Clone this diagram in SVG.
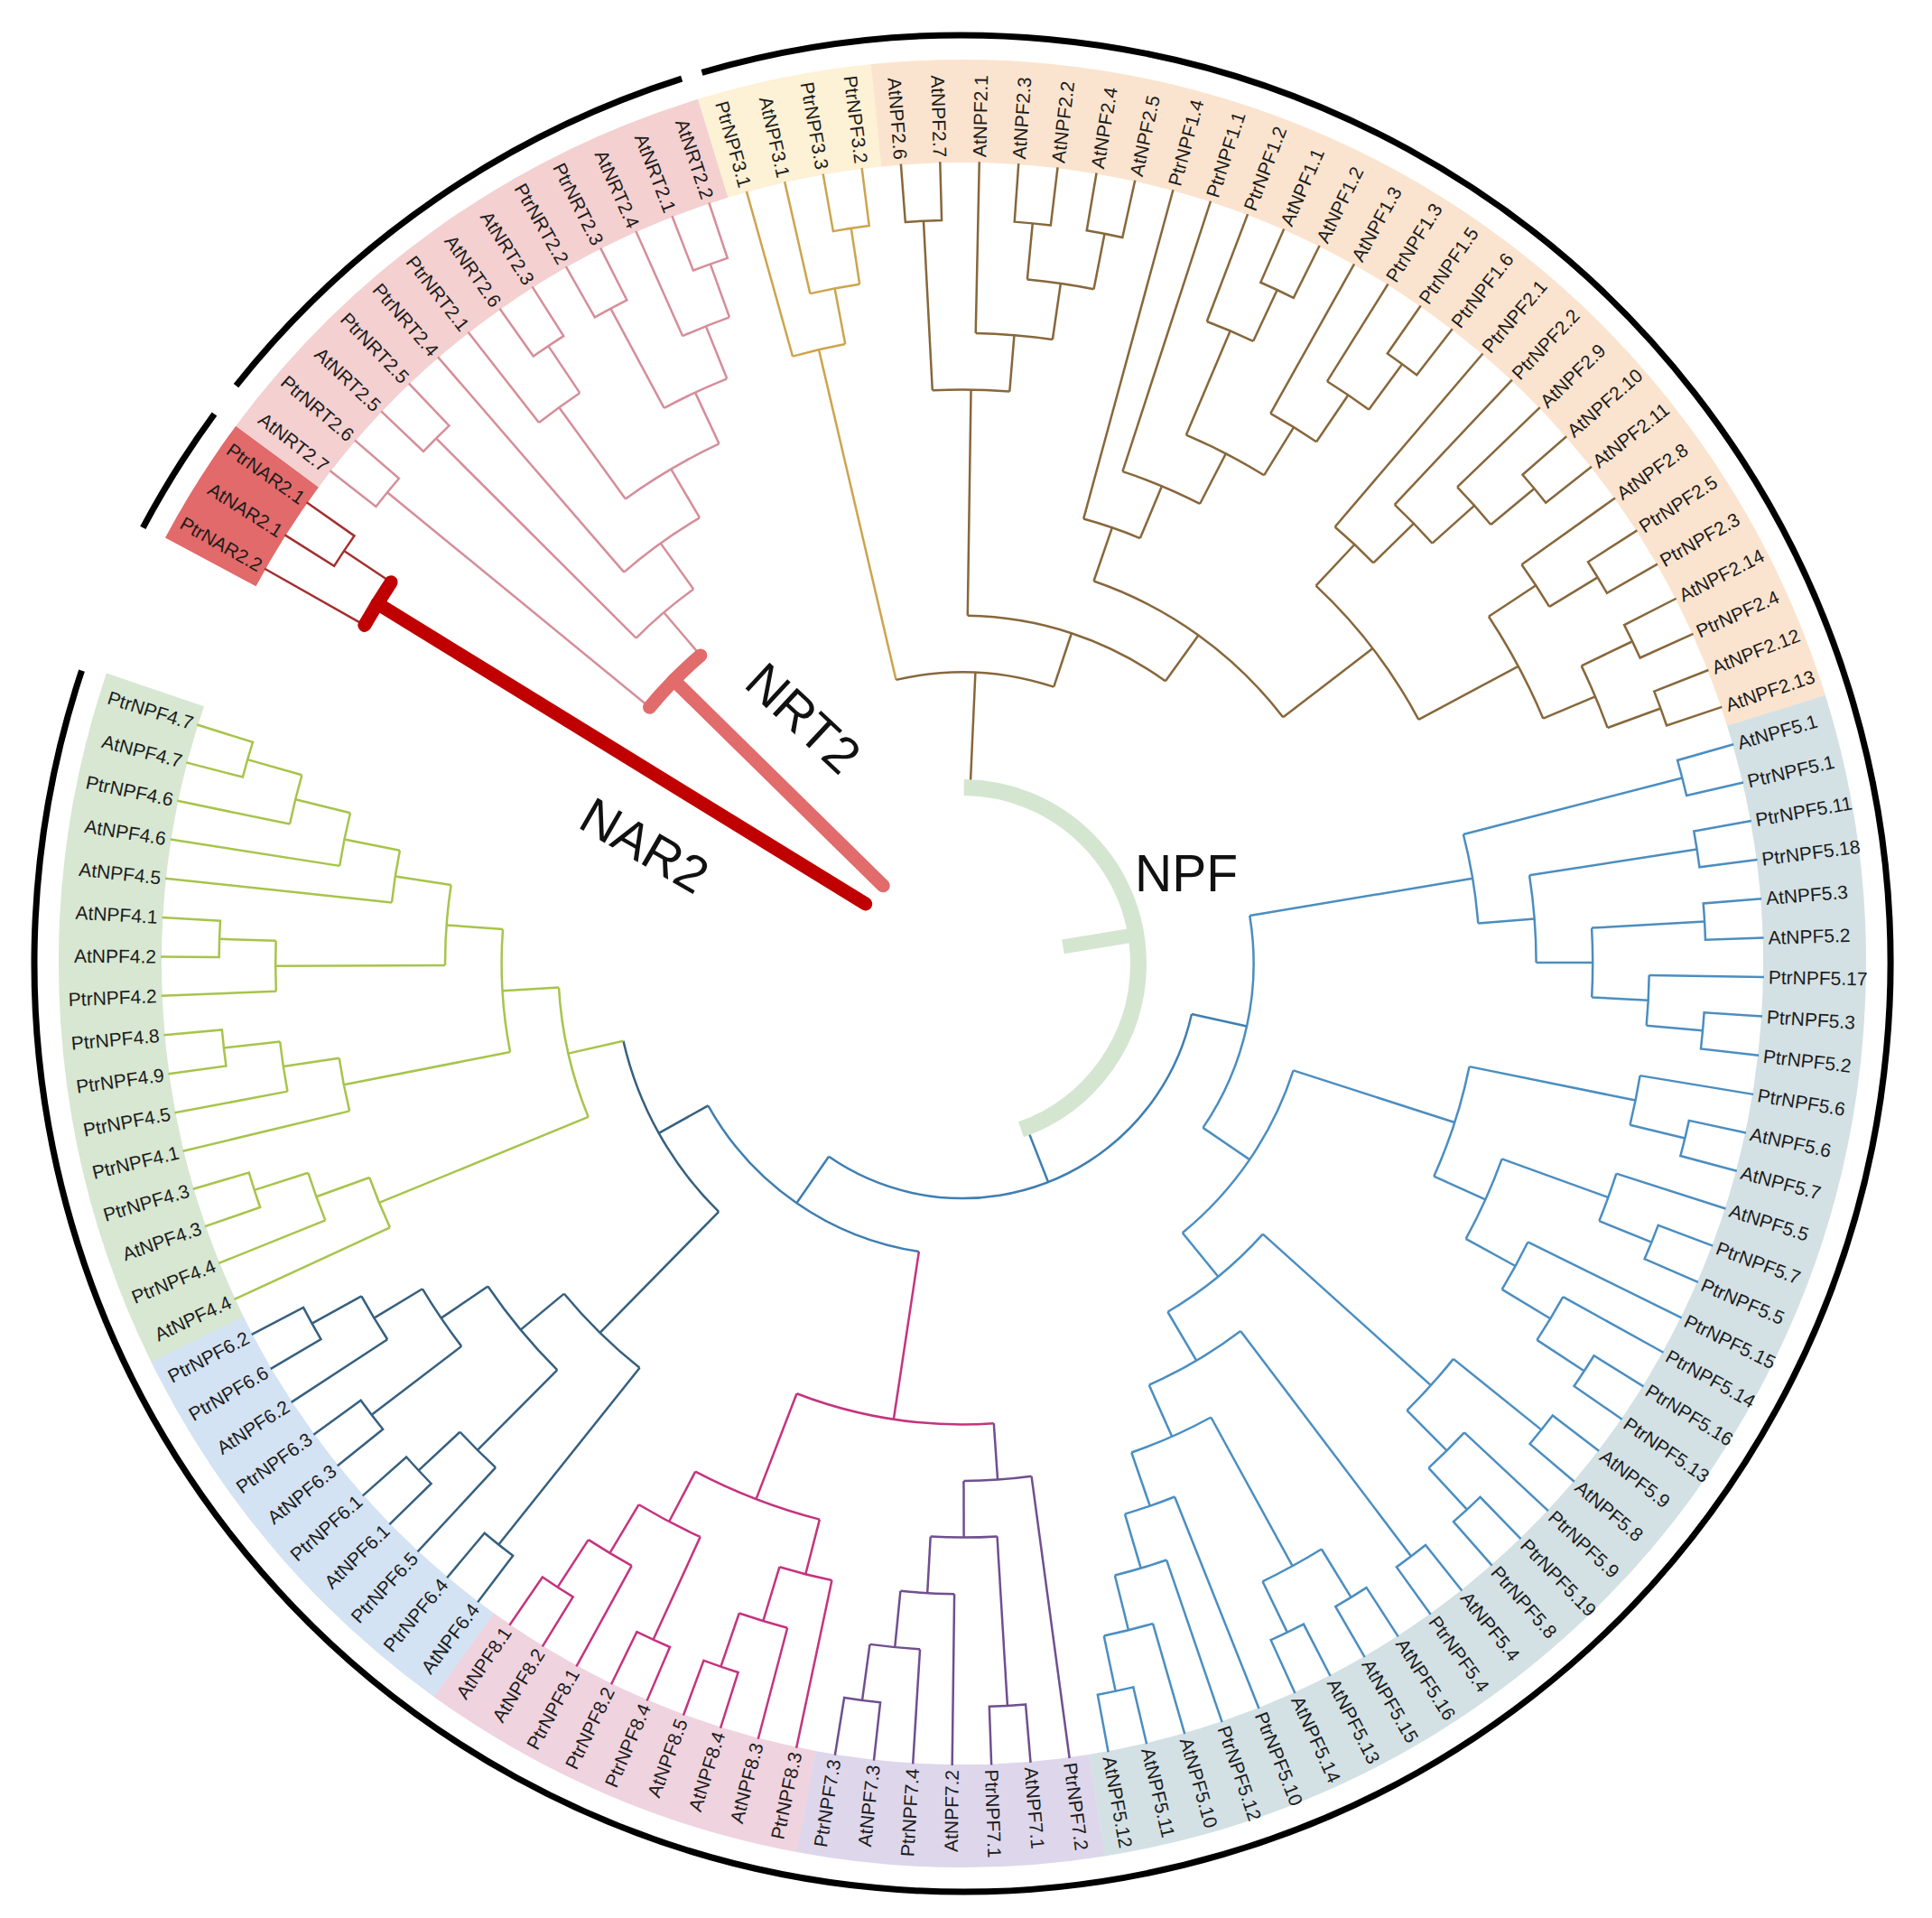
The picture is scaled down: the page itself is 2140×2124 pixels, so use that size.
<svg xmlns="http://www.w3.org/2000/svg" width="2140" height="2124" viewBox="0 0 2140 2124">
<defs>
<path id="pr" d="M888 0H823.4A823.4 823.4 0 0 1 822.41 40.29L886.94 43.46"/>
</defs>
<style>
.t{fill:none;stroke-width:2.5}
.nar{stroke:#a32f2f}
.nrt{stroke:#d58e99}
.p3{stroke:#cda44e}
.p12{stroke:#87673b}
.p5{stroke:#4b8ec0}
.bb{stroke:#3f7fb0}
.p7{stroke:#6f4f90}
.p8{stroke:#c5337f}
.p6{stroke:#36607f}
.p4{stroke:#a7c44b}
.bd{fill:none;stroke-width:114}
.rg{fill:none;stroke:#000;stroke-width:7}
.lb text{font-family:"Liberation Sans",Arial,sans-serif;font-size:21px;fill:#1c1c1c}
.lb .f{text-anchor:end}
.big{font-family:"Liberation Sans",Arial,sans-serif;font-size:57px;fill:#111}
</style>
<rect width="2140" height="2124" fill="#fff"/>
<g transform="translate(1066,1067)">
<g id="bands" class="bd">
<circle r="944" pathLength="360" stroke-dasharray="8.4 360" transform="rotate(208.1)" stroke="#e26a6a"/>
<circle r="944" pathLength="360" stroke-dasharray="36.5 360" transform="rotate(216.5)" stroke="#f4d0d0"/>
<circle r="944" pathLength="360" stroke-dasharray="11.25 360" transform="rotate(252.98)" stroke="#fdf1d6"/>
<circle r="944" pathLength="360" stroke-dasharray="78.56 360" transform="rotate(264.2)" stroke="#fbe4cf"/>
<circle r="944" pathLength="360" stroke-dasharray="98.2 360" transform="rotate(342.74)" stroke="#d3e1e5"/>
<circle r="944" pathLength="360" stroke-dasharray="19.66 360" transform="rotate(440.92)" stroke="#ded7eb"/>
<circle r="944" pathLength="360" stroke-dasharray="25.27 360" transform="rotate(460.55)" stroke="#efd3df"/>
<circle r="944" pathLength="360" stroke-dasharray="28.07 360" transform="rotate(485.8)" stroke="#d3e3f3"/>
<circle r="944" pathLength="360" stroke-dasharray="44.88 360" transform="rotate(513.85)" stroke="#d7e7d2"/>
</g>
<g id="rings" class="rg">
<circle r="1028" pathLength="360" stroke-dasharray="8.3 360" transform="rotate(208)"/>
<circle r="1028" pathLength="360" stroke-dasharray="33.9 360" transform="rotate(218.5)"/>
<circle r="1028" pathLength="360" stroke-dasharray="304.7 360" transform="rotate(253.7)"/>
</g>
<g id="connectors">
<g id="b-nar2" class="t nar">
<use href="#pr" transform="rotate(212.31)"/>
<circle r="760.8" pathLength="360" stroke-dasharray="4.21 360" transform="rotate(209.5)"/>
<path d="M760.8 0H888" transform="rotate(209.5)"/>
<path d="M760.8 0H823.4" transform="rotate(213.71)"/>
</g>
<g id="b-nrt2" class="t nrt">
<use href="#pr" transform="rotate(217.92)"/>
<use href="#pr" transform="rotate(223.53)"/>
<use href="#pr" transform="rotate(234.75)"/>
<circle r="760.8" pathLength="360" stroke-dasharray="4.21 360" transform="rotate(231.94)"/>
<path d="M760.8 0H888" transform="rotate(231.94)"/>
<path d="M760.8 0H823.4" transform="rotate(236.15)"/>
<use href="#pr" transform="rotate(240.36)"/>
<use href="#pr" transform="rotate(248.77)"/>
<circle r="760.8" pathLength="360" stroke-dasharray="4.205 360" transform="rotate(245.97)"/>
<path d="M760.8 0H888" transform="rotate(245.97)"/>
<path d="M760.8 0H823.4" transform="rotate(250.175)"/>
<circle r="698.2" pathLength="360" stroke-dasharray="6.31 360" transform="rotate(241.76)"/>
<path d="M698.2 0H823.4" transform="rotate(241.76)"/>
<path d="M698.2 0H760.8" transform="rotate(248.07)"/>
<circle r="635.6" pathLength="360" stroke-dasharray="10.87 360" transform="rotate(234.045)"/>
<path d="M635.6 0H760.8" transform="rotate(234.045)"/>
<path d="M635.6 0H698.2" transform="rotate(244.915)"/>
<circle r="573" pathLength="360" stroke-dasharray="10.34 360" transform="rotate(229.14)"/>
<path d="M573 0H888" transform="rotate(229.14)"/>
<path d="M573 0H635.6" transform="rotate(239.48)"/>
<circle r="510.4" pathLength="360" stroke-dasharray="9.38 360" transform="rotate(224.93)"/>
<path d="M510.4 0H823.4" transform="rotate(224.93)"/>
<path d="M510.4 0H573" transform="rotate(234.31)"/>
<circle r="447.8" pathLength="360" stroke-dasharray="10.3 360" transform="rotate(219.32)"/>
<path d="M447.8 0H823.4" transform="rotate(219.32)"/>
<path d="M447.8 0H510.4" transform="rotate(229.62)"/>
</g>
<g id="b-npf3" class="t p3">
<use href="#pr" transform="rotate(259.99)"/>
<circle r="760.8" pathLength="360" stroke-dasharray="4.205 360" transform="rotate(257.19)"/>
<path d="M760.8 0H888" transform="rotate(257.19)"/>
<path d="M760.8 0H823.4" transform="rotate(261.395)"/>
<circle r="698.2" pathLength="360" stroke-dasharray="4.91 360" transform="rotate(254.38)"/>
<path d="M698.2 0H888" transform="rotate(254.38)"/>
<path d="M698.2 0H760.8" transform="rotate(259.29)"/>
<path d="M322.6 0H698.2" transform="rotate(256.835)"/>
</g>
<g id="b-npf12" class="t p12">
<use href="#pr" transform="rotate(265.6)"/>
<use href="#pr" transform="rotate(274.02)"/>
<use href="#pr" transform="rotate(279.63)"/>
<circle r="760.8" pathLength="360" stroke-dasharray="5.61 360" transform="rotate(275.42)"/>
<path d="M760.8 0H823.4" transform="rotate(275.42)"/>
<path d="M760.8 0H823.4" transform="rotate(281.03)"/>
<circle r="698.2" pathLength="360" stroke-dasharray="7.015 360" transform="rotate(271.21)"/>
<path d="M698.2 0H888" transform="rotate(271.21)"/>
<path d="M698.2 0H760.8" transform="rotate(278.225)"/>
<circle r="635.6" pathLength="360" stroke-dasharray="7.715 360" transform="rotate(267.005)"/>
<path d="M635.6 0H823.4" transform="rotate(267.005)"/>
<path d="M635.6 0H698.2" transform="rotate(274.72)"/>
<use href="#pr" transform="rotate(293.65)"/>
<circle r="760.8" pathLength="360" stroke-dasharray="4.205 360" transform="rotate(290.85)"/>
<path d="M760.8 0H888" transform="rotate(290.85)"/>
<path d="M760.8 0H823.4" transform="rotate(295.055)"/>
<use href="#pr" transform="rotate(304.87)"/>
<circle r="760.8" pathLength="360" stroke-dasharray="4.205 360" transform="rotate(302.07)"/>
<path d="M760.8 0H888" transform="rotate(302.07)"/>
<path d="M760.8 0H823.4" transform="rotate(306.275)"/>
<circle r="698.2" pathLength="360" stroke-dasharray="4.91 360" transform="rotate(299.26)"/>
<path d="M698.2 0H888" transform="rotate(299.26)"/>
<path d="M698.2 0H760.8" transform="rotate(304.17)"/>
<circle r="635.6" pathLength="360" stroke-dasharray="8.765 360" transform="rotate(292.95)"/>
<path d="M635.6 0H760.8" transform="rotate(292.95)"/>
<path d="M635.6 0H698.2" transform="rotate(301.715)"/>
<circle r="573" pathLength="360" stroke-dasharray="9.29 360" transform="rotate(288.04)"/>
<path d="M573 0H888" transform="rotate(288.04)"/>
<path d="M573 0H635.6" transform="rotate(297.33)"/>
<circle r="510.4" pathLength="360" stroke-dasharray="7.445 360" transform="rotate(285.24)"/>
<path d="M510.4 0H888" transform="rotate(285.24)"/>
<path d="M510.4 0H573" transform="rotate(292.685)"/>
<use href="#pr" transform="rotate(318.9)"/>
<circle r="760.8" pathLength="360" stroke-dasharray="4.21 360" transform="rotate(316.09)"/>
<path d="M760.8 0H888" transform="rotate(316.09)"/>
<path d="M760.8 0H823.4" transform="rotate(320.3)"/>
<circle r="698.2" pathLength="360" stroke-dasharray="4.905 360" transform="rotate(313.29)"/>
<path d="M698.2 0H888" transform="rotate(313.29)"/>
<path d="M698.2 0H760.8" transform="rotate(318.195)"/>
<circle r="635.6" pathLength="360" stroke-dasharray="5.26 360" transform="rotate(310.48)"/>
<path d="M635.6 0H888" transform="rotate(310.48)"/>
<path d="M635.6 0H698.2" transform="rotate(315.74)"/>
<use href="#pr" transform="rotate(327.31)"/>
<circle r="760.8" pathLength="360" stroke-dasharray="4.205 360" transform="rotate(324.51)"/>
<path d="M760.8 0H888" transform="rotate(324.51)"/>
<path d="M760.8 0H823.4" transform="rotate(328.715)"/>
<use href="#pr" transform="rotate(332.92)"/>
<use href="#pr" transform="rotate(338.53)"/>
<circle r="760.8" pathLength="360" stroke-dasharray="5.61 360" transform="rotate(334.325)"/>
<path d="M760.8 0H823.4" transform="rotate(334.325)"/>
<path d="M760.8 0H823.4" transform="rotate(339.935)"/>
<circle r="698.2" pathLength="360" stroke-dasharray="10.52 360" transform="rotate(326.61)"/>
<path d="M698.2 0H760.8" transform="rotate(326.61)"/>
<path d="M698.2 0H760.8" transform="rotate(337.13)"/>
<circle r="573" pathLength="360" stroke-dasharray="18.76 360" transform="rotate(313.11)"/>
<path d="M573 0H635.6" transform="rotate(313.11)"/>
<path d="M573 0H698.2" transform="rotate(331.87)"/>
<circle r="447.8" pathLength="360" stroke-dasharray="33.53 360" transform="rotate(288.96)"/>
<path d="M447.8 0H510.4" transform="rotate(288.96)"/>
<path d="M447.8 0H573" transform="rotate(322.49)"/>
<circle r="385.2" pathLength="360" stroke-dasharray="34.865 360" transform="rotate(270.86)"/>
<path d="M385.2 0H635.6" transform="rotate(270.86)"/>
<path d="M385.2 0H447.8" transform="rotate(305.725)"/>
<circle r="322.6" pathLength="360" stroke-dasharray="31.455 360" transform="rotate(256.835)"/>
<path d="M322.6 0H385.2" transform="rotate(288.29)"/>
<path d="M197.4 0H322.6" transform="rotate(272.56)"/>
</g>
<g id="b-npf5" class="t p5">
<use href="#pr" transform="rotate(344.14)"/>
<use href="#pr" transform="rotate(349.75)"/>
<use href="#pr" transform="rotate(355.36)"/>
<use href="#pr" transform="rotate(363.78)"/>
<circle r="760.8" pathLength="360" stroke-dasharray="4.21 360" transform="rotate(360.97)"/>
<path d="M760.8 0H888" transform="rotate(360.97)"/>
<path d="M760.8 0H823.4" transform="rotate(365.18)"/>
<circle r="698.2" pathLength="360" stroke-dasharray="6.31 360" transform="rotate(356.765)"/>
<path d="M698.2 0H823.4" transform="rotate(356.765)"/>
<path d="M698.2 0H760.8" transform="rotate(363.075)"/>
<circle r="635.6" pathLength="360" stroke-dasharray="8.765 360" transform="rotate(351.155)"/>
<path d="M635.6 0H823.4" transform="rotate(351.155)"/>
<path d="M635.6 0H698.2" transform="rotate(359.92)"/>
<circle r="573" pathLength="360" stroke-dasharray="9.995 360" transform="rotate(345.545)"/>
<path d="M573 0H823.4" transform="rotate(345.545)"/>
<path d="M573 0H635.6" transform="rotate(355.54)"/>
<use href="#pr" transform="rotate(372.19)"/>
<circle r="760.8" pathLength="360" stroke-dasharray="4.205 360" transform="rotate(369.39)"/>
<path d="M760.8 0H888" transform="rotate(369.39)"/>
<path d="M760.8 0H823.4" transform="rotate(373.595)"/>
<use href="#pr" transform="rotate(380.61)"/>
<circle r="760.8" pathLength="360" stroke-dasharray="4.21 360" transform="rotate(377.8)"/>
<path d="M760.8 0H888" transform="rotate(377.8)"/>
<path d="M760.8 0H823.4" transform="rotate(382.01)"/>
<use href="#pr" transform="rotate(391.83)"/>
<circle r="760.8" pathLength="360" stroke-dasharray="4.21 360" transform="rotate(389.02)"/>
<path d="M760.8 0H888" transform="rotate(389.02)"/>
<path d="M760.8 0H823.4" transform="rotate(393.23)"/>
<circle r="698.2" pathLength="360" stroke-dasharray="4.905 360" transform="rotate(386.22)"/>
<path d="M698.2 0H888" transform="rotate(386.22)"/>
<path d="M698.2 0H760.8" transform="rotate(391.125)"/>
<circle r="635.6" pathLength="360" stroke-dasharray="8.7675 360" transform="rotate(379.905)"/>
<path d="M635.6 0H760.8" transform="rotate(379.905)"/>
<path d="M635.6 0H698.2" transform="rotate(388.6725)"/>
<circle r="573" pathLength="360" stroke-dasharray="12.8 360" transform="rotate(371.49)"/>
<path d="M573 0H760.8" transform="rotate(371.49)"/>
<path d="M573 0H635.6" transform="rotate(384.29)"/>
<use href="#pr" transform="rotate(397.44)"/>
<use href="#pr" transform="rotate(405.85)"/>
<circle r="760.8" pathLength="360" stroke-dasharray="4.205 360" transform="rotate(403.05)"/>
<path d="M760.8 0H888" transform="rotate(403.05)"/>
<path d="M760.8 0H823.4" transform="rotate(407.255)"/>
<circle r="698.2" pathLength="360" stroke-dasharray="6.31 360" transform="rotate(398.84)"/>
<path d="M698.2 0H823.4" transform="rotate(398.84)"/>
<path d="M698.2 0H760.8" transform="rotate(405.15)"/>
<use href="#pr" transform="rotate(411.46)"/>
<use href="#pr" transform="rotate(417.07)"/>
<use href="#pr" transform="rotate(422.68)"/>
<circle r="760.8" pathLength="360" stroke-dasharray="5.61 360" transform="rotate(418.475)"/>
<path d="M760.8 0H823.4" transform="rotate(418.475)"/>
<path d="M760.8 0H823.4" transform="rotate(424.085)"/>
<use href="#pr" transform="rotate(436.71)"/>
<circle r="760.8" pathLength="360" stroke-dasharray="4.21 360" transform="rotate(433.9)"/>
<path d="M760.8 0H888" transform="rotate(433.9)"/>
<path d="M760.8 0H823.4" transform="rotate(438.11)"/>
<circle r="698.2" pathLength="360" stroke-dasharray="4.905 360" transform="rotate(431.1)"/>
<path d="M698.2 0H888" transform="rotate(431.1)"/>
<path d="M698.2 0H760.8" transform="rotate(436.005)"/>
<circle r="635.6" pathLength="360" stroke-dasharray="5.2625 360" transform="rotate(428.29)"/>
<path d="M635.6 0H888" transform="rotate(428.29)"/>
<path d="M635.6 0H698.2" transform="rotate(433.5525)"/>
<circle r="573" pathLength="360" stroke-dasharray="9.64 360" transform="rotate(421.28)"/>
<path d="M573 0H760.8" transform="rotate(421.28)"/>
<path d="M573 0H635.6" transform="rotate(430.92)"/>
<circle r="510.4" pathLength="360" stroke-dasharray="13.235 360" transform="rotate(412.865)"/>
<path d="M510.4 0H823.4" transform="rotate(412.865)"/>
<path d="M510.4 0H573" transform="rotate(426.1)"/>
<circle r="447.8" pathLength="360" stroke-dasharray="17.485 360" transform="rotate(401.995)"/>
<path d="M447.8 0H698.2" transform="rotate(401.995)"/>
<path d="M447.8 0H510.4" transform="rotate(419.48)"/>
<circle r="385.2" pathLength="360" stroke-dasharray="32.85 360" transform="rotate(377.89)"/>
<path d="M385.2 0H573" transform="rotate(377.89)"/>
<path d="M385.2 0H447.8" transform="rotate(410.74)"/>
<circle r="322.6" pathLength="360" stroke-dasharray="43.775 360" transform="rotate(350.54)"/>
<path d="M322.6 0H573" transform="rotate(350.54)"/>
<path d="M322.6 0H385.2" transform="rotate(394.315)"/>
</g>
<g id="b-backbone" class="t bb">
<circle r="260" pathLength="360" stroke-dasharray="112.26 360" transform="rotate(372.43)"/>
<path d="M260 0H322.6" transform="rotate(372.43)"/>
<path d="M260 0H322.6" transform="rotate(484.69)"/>
<path d="M197.4 0H260" transform="rotate(428.56)"/>
<circle r="322.6" pathLength="360" stroke-dasharray="52.231 360" transform="rotate(458.579)"/>
</g>
<g id="b-npf7" class="t p7">
<use href="#pr" transform="rotate(445.12)"/>
<use href="#pr" transform="rotate(456.34)"/>
<circle r="760.8" pathLength="360" stroke-dasharray="4.205 360" transform="rotate(453.54)"/>
<path d="M760.8 0H888" transform="rotate(453.54)"/>
<path d="M760.8 0H823.4" transform="rotate(457.745)"/>
<circle r="698.2" pathLength="360" stroke-dasharray="4.91 360" transform="rotate(450.73)"/>
<path d="M698.2 0H888" transform="rotate(450.73)"/>
<path d="M698.2 0H760.8" transform="rotate(455.64)"/>
<circle r="635.6" pathLength="360" stroke-dasharray="6.66 360" transform="rotate(446.525)"/>
<path d="M635.6 0H823.4" transform="rotate(446.525)"/>
<path d="M635.6 0H698.2" transform="rotate(453.185)"/>
<circle r="573" pathLength="360" stroke-dasharray="7.535 360" transform="rotate(442.32)"/>
<path d="M573 0H888" transform="rotate(442.32)"/>
<path d="M573 0H635.6" transform="rotate(449.855)"/>
<path d="M510.4 0H573" transform="rotate(446.09)"/>
</g>
<g id="b-npf8" class="t p8">
<use href="#pr" transform="rotate(467.56)"/>
<circle r="760.8" pathLength="360" stroke-dasharray="4.205 360" transform="rotate(464.76)"/>
<path d="M760.8 0H888" transform="rotate(464.76)"/>
<path d="M760.8 0H823.4" transform="rotate(468.965)"/>
<circle r="698.2" pathLength="360" stroke-dasharray="4.9125 360" transform="rotate(461.95)"/>
<path d="M698.2 0H888" transform="rotate(461.95)"/>
<path d="M698.2 0H760.8" transform="rotate(466.8625)"/>
<use href="#pr" transform="rotate(473.17)"/>
<use href="#pr" transform="rotate(481.59)"/>
<circle r="760.8" pathLength="360" stroke-dasharray="4.21 360" transform="rotate(478.78)"/>
<path d="M760.8 0H888" transform="rotate(478.78)"/>
<path d="M760.8 0H823.4" transform="rotate(482.99)"/>
<circle r="698.2" pathLength="360" stroke-dasharray="6.31 360" transform="rotate(474.575)"/>
<path d="M698.2 0H823.4" transform="rotate(474.575)"/>
<path d="M698.2 0H760.8" transform="rotate(480.885)"/>
<circle r="635.6" pathLength="360" stroke-dasharray="13.324 360" transform="rotate(464.406)"/>
<path d="M635.6 0H698.2" transform="rotate(464.406)"/>
<path d="M635.6 0H698.2" transform="rotate(477.73)"/>
<path d="M510.4 0H635.6" transform="rotate(471.068)"/>
<circle r="510.4" pathLength="360" stroke-dasharray="24.978 360" transform="rotate(446.09)"/>
<path d="M322.6 0H510.4" transform="rotate(458.579)"/>
</g>
<g id="b-npf6" class="t p6">
<use href="#pr" transform="rotate(509.64)"/>
<circle r="760.8" pathLength="360" stroke-dasharray="4.21 360" transform="rotate(506.83)"/>
<path d="M760.8 0H888" transform="rotate(506.83)"/>
<path d="M760.8 0H823.4" transform="rotate(511.04)"/>
<use href="#pr" transform="rotate(501.22)"/>
<circle r="698.2" pathLength="360" stroke-dasharray="6.31 360" transform="rotate(502.625)"/>
<path d="M698.2 0H823.4" transform="rotate(502.625)"/>
<path d="M698.2 0H760.8" transform="rotate(508.935)"/>
<use href="#pr" transform="rotate(495.61)"/>
<circle r="760.8" pathLength="360" stroke-dasharray="4.205 360" transform="rotate(492.81)"/>
<path d="M760.8 0H888" transform="rotate(492.81)"/>
<path d="M760.8 0H823.4" transform="rotate(497.015)"/>
<use href="#pr" transform="rotate(487.2)"/>
<circle r="635.6" pathLength="360" stroke-dasharray="10.8675 360" transform="rotate(494.9125)"/>
<path d="M635.6 0H760.8" transform="rotate(494.9125)"/>
<path d="M635.6 0H698.2" transform="rotate(505.78)"/>
<circle r="573" pathLength="360" stroke-dasharray="11.746 360" transform="rotate(488.6)"/>
<path d="M573 0H823.4" transform="rotate(488.6)"/>
<path d="M573 0H635.6" transform="rotate(500.346)"/>
<path d="M385.2 0H573" transform="rotate(494.473)"/>
<circle r="385.2" pathLength="360" stroke-dasharray="32.674 360" transform="rotate(494.473)"/>
<path d="M322.6 0H385.2" transform="rotate(510.81)"/>
</g>
<g id="b-npf4" class="t p4">
<use href="#pr" transform="rotate(554.52)"/>
<circle r="760.8" pathLength="360" stroke-dasharray="4.21 360" transform="rotate(551.71)"/>
<path d="M760.8 0H888" transform="rotate(551.71)"/>
<path d="M760.8 0H823.4" transform="rotate(555.92)"/>
<circle r="698.2" pathLength="360" stroke-dasharray="4.905 360" transform="rotate(548.91)"/>
<path d="M698.2 0H888" transform="rotate(548.91)"/>
<path d="M698.2 0H760.8" transform="rotate(553.815)"/>
<circle r="635.6" pathLength="360" stroke-dasharray="5.2625 360" transform="rotate(546.1)"/>
<path d="M635.6 0H888" transform="rotate(546.1)"/>
<path d="M635.6 0H698.2" transform="rotate(551.3625)"/>
<use href="#pr" transform="rotate(540.49)"/>
<circle r="760.8" pathLength="360" stroke-dasharray="4.205 360" transform="rotate(537.69)"/>
<path d="M760.8 0H888" transform="rotate(537.69)"/>
<path d="M760.8 0H823.4" transform="rotate(541.895)"/>
<circle r="573" pathLength="360" stroke-dasharray="8.9385 360" transform="rotate(539.7925)"/>
<path d="M573 0H760.8" transform="rotate(539.7925)"/>
<path d="M573 0H635.6" transform="rotate(548.731)"/>
<use href="#pr" transform="rotate(532.08)"/>
<circle r="760.8" pathLength="360" stroke-dasharray="4.21 360" transform="rotate(529.27)"/>
<path d="M760.8 0H888" transform="rotate(529.27)"/>
<path d="M760.8 0H823.4" transform="rotate(533.48)"/>
<circle r="698.2" pathLength="360" stroke-dasharray="4.905 360" transform="rotate(526.47)"/>
<path d="M698.2 0H888" transform="rotate(526.47)"/>
<path d="M698.2 0H760.8" transform="rotate(531.375)"/>
<circle r="510.4" pathLength="360" stroke-dasharray="15.3395 360" transform="rotate(528.9225)"/>
<path d="M510.4 0H698.2" transform="rotate(528.9225)"/>
<path d="M510.4 0H573" transform="rotate(544.262)"/>
<use href="#pr" transform="rotate(520.86)"/>
<circle r="760.8" pathLength="360" stroke-dasharray="4.21 360" transform="rotate(518.05)"/>
<path d="M760.8 0H888" transform="rotate(518.05)"/>
<path d="M760.8 0H823.4" transform="rotate(522.26)"/>
<circle r="698.2" pathLength="360" stroke-dasharray="4.905 360" transform="rotate(515.25)"/>
<path d="M698.2 0H888" transform="rotate(515.25)"/>
<path d="M698.2 0H760.8" transform="rotate(520.155)"/>
<circle r="447.8" pathLength="360" stroke-dasharray="18.8895 360" transform="rotate(517.7025)"/>
<path d="M447.8 0H698.2" transform="rotate(517.7025)"/>
<path d="M447.8 0H510.4" transform="rotate(536.592)"/>
<path d="M385.2 0H447.8" transform="rotate(527.147)"/>
</g>
<g id="thick-stems" fill="none" stroke-linecap="round" stroke-width="15">
<path d="M126 0H760.8" transform="rotate(211.6)" stroke="#c00000"/>
<circle r="760.8" pathLength="360" stroke-dasharray="4.21 360" transform="rotate(209.5)" stroke="#c00000"/>
<path d="M123 0H447.8" transform="rotate(224.47)" stroke="#e26b6b"/>
<circle r="447.8" pathLength="360" stroke-dasharray="10.3 360" transform="rotate(219.32)" stroke="#e26b6b"/>
</g>
<g id="npf-root" fill="none" stroke="#d4e6d0">
<circle r="195" pathLength="360" stroke-dasharray="160 360" transform="rotate(270.5)" stroke-width="18"/>
<path d="M113 0H196" transform="rotate(350.56)" stroke-width="16"/>
</g>
</g>
<g id="labels" class="lb">
<g id="leaf-PtrNAR2.2"><text class="f" transform="rotate(29.5)" x="-893" dy=".35em">PtrNAR2.2</text></g>
<g id="leaf-AtNAR2.1"><text class="f" transform="rotate(32.31)" x="-893" dy=".35em">AtNAR2.1</text></g>
<g id="leaf-PtrNAR2.1"><text class="f" transform="rotate(35.11)" x="-893" dy=".35em">PtrNAR2.1</text></g>
<g id="leaf-AtNRT2.7"><text class="f" transform="rotate(37.92)" x="-893" dy=".35em">AtNRT2.7</text></g>
<g id="leaf-PtrNRT2.6"><text class="f" transform="rotate(40.72)" x="-893" dy=".35em">PtrNRT2.6</text></g>
<g id="leaf-AtNRT2.5"><text class="f" transform="rotate(43.53)" x="-893" dy=".35em">AtNRT2.5</text></g>
<g id="leaf-PtrNRT2.5"><text class="f" transform="rotate(46.33)" x="-893" dy=".35em">PtrNRT2.5</text></g>
<g id="leaf-PtrNRT2.4"><text class="f" transform="rotate(49.14)" x="-893" dy=".35em">PtrNRT2.4</text></g>
<g id="leaf-PtrNRT2.1"><text class="f" transform="rotate(51.94)" x="-893" dy=".35em">PtrNRT2.1</text></g>
<g id="leaf-AtNRT2.6"><text class="f" transform="rotate(54.75)" x="-893" dy=".35em">AtNRT2.6</text></g>
<g id="leaf-AtNRT2.3"><text class="f" transform="rotate(57.55)" x="-893" dy=".35em">AtNRT2.3</text></g>
<g id="leaf-PtrNRT2.2"><text class="f" transform="rotate(60.36)" x="-893" dy=".35em">PtrNRT2.2</text></g>
<g id="leaf-PtrNRT2.3"><text class="f" transform="rotate(63.16)" x="-893" dy=".35em">PtrNRT2.3</text></g>
<g id="leaf-AtNRT2.4"><text class="f" transform="rotate(65.97)" x="-893" dy=".35em">AtNRT2.4</text></g>
<g id="leaf-AtNRT2.1"><text class="f" transform="rotate(68.77)" x="-893" dy=".35em">AtNRT2.1</text></g>
<g id="leaf-AtNRT2.2"><text class="f" transform="rotate(71.58)" x="-893" dy=".35em">AtNRT2.2</text></g>
<g id="leaf-PtrNPF3.1"><text class="f" transform="rotate(74.38)" x="-893" dy=".35em">PtrNPF3.1</text></g>
<g id="leaf-AtNPF3.1"><text class="f" transform="rotate(77.19)" x="-893" dy=".35em">AtNPF3.1</text></g>
<g id="leaf-PtrNPF3.3"><text class="f" transform="rotate(79.99)" x="-893" dy=".35em">PtrNPF3.3</text></g>
<g id="leaf-PtrNPF3.2"><text class="f" transform="rotate(82.8)" x="-893" dy=".35em">PtrNPF3.2</text></g>
<g id="leaf-AtNPF2.6"><text class="f" transform="rotate(85.6)" x="-893" dy=".35em">AtNPF2.6</text></g>
<g id="leaf-AtNPF2.7"><text class="f" transform="rotate(88.41)" x="-893" dy=".35em">AtNPF2.7</text></g>
<g id="leaf-AtNPF2.1"><text transform="rotate(271.21)" x="893" dy=".35em">AtNPF2.1</text></g>
<g id="leaf-AtNPF2.3"><text transform="rotate(274.02)" x="893" dy=".35em">AtNPF2.3</text></g>
<g id="leaf-AtNPF2.2"><text transform="rotate(276.82)" x="893" dy=".35em">AtNPF2.2</text></g>
<g id="leaf-AtNPF2.4"><text transform="rotate(279.63)" x="893" dy=".35em">AtNPF2.4</text></g>
<g id="leaf-AtNPF2.5"><text transform="rotate(282.43)" x="893" dy=".35em">AtNPF2.5</text></g>
<g id="leaf-PtrNPF1.4"><text transform="rotate(285.24)" x="893" dy=".35em">PtrNPF1.4</text></g>
<g id="leaf-PtrNPF1.1"><text transform="rotate(288.04)" x="893" dy=".35em">PtrNPF1.1</text></g>
<g id="leaf-PtrNPF1.2"><text transform="rotate(290.85)" x="893" dy=".35em">PtrNPF1.2</text></g>
<g id="leaf-AtNPF1.1"><text transform="rotate(293.65)" x="893" dy=".35em">AtNPF1.1</text></g>
<g id="leaf-AtNPF1.2"><text transform="rotate(296.46)" x="893" dy=".35em">AtNPF1.2</text></g>
<g id="leaf-AtNPF1.3"><text transform="rotate(299.26)" x="893" dy=".35em">AtNPF1.3</text></g>
<g id="leaf-PtrNPF1.3"><text transform="rotate(302.07)" x="893" dy=".35em">PtrNPF1.3</text></g>
<g id="leaf-PtrNPF1.5"><text transform="rotate(304.87)" x="893" dy=".35em">PtrNPF1.5</text></g>
<g id="leaf-PtrNPF1.6"><text transform="rotate(307.68)" x="893" dy=".35em">PtrNPF1.6</text></g>
<g id="leaf-PtrNPF2.1"><text transform="rotate(310.48)" x="893" dy=".35em">PtrNPF2.1</text></g>
<g id="leaf-PtrNPF2.2"><text transform="rotate(313.29)" x="893" dy=".35em">PtrNPF2.2</text></g>
<g id="leaf-AtNPF2.9"><text transform="rotate(316.09)" x="893" dy=".35em">AtNPF2.9</text></g>
<g id="leaf-AtNPF2.10"><text transform="rotate(318.9)" x="893" dy=".35em">AtNPF2.10</text></g>
<g id="leaf-AtNPF2.11"><text transform="rotate(321.7)" x="893" dy=".35em">AtNPF2.11</text></g>
<g id="leaf-AtNPF2.8"><text transform="rotate(324.51)" x="893" dy=".35em">AtNPF2.8</text></g>
<g id="leaf-PtrNPF2.5"><text transform="rotate(327.31)" x="893" dy=".35em">PtrNPF2.5</text></g>
<g id="leaf-PtrNPF2.3"><text transform="rotate(330.12)" x="893" dy=".35em">PtrNPF2.3</text></g>
<g id="leaf-AtNPF2.14"><text transform="rotate(332.92)" x="893" dy=".35em">AtNPF2.14</text></g>
<g id="leaf-PtrNPF2.4"><text transform="rotate(335.73)" x="893" dy=".35em">PtrNPF2.4</text></g>
<g id="leaf-AtNPF2.12"><text transform="rotate(338.53)" x="893" dy=".35em">AtNPF2.12</text></g>
<g id="leaf-AtNPF2.13"><text transform="rotate(341.34)" x="893" dy=".35em">AtNPF2.13</text></g>
<g id="leaf-AtNPF5.1"><text transform="rotate(344.14)" x="893" dy=".35em">AtNPF5.1</text></g>
<g id="leaf-PtrNPF5.1"><text transform="rotate(346.95)" x="893" dy=".35em">PtrNPF5.1</text></g>
<g id="leaf-PtrNPF5.11"><text transform="rotate(349.75)" x="893" dy=".35em">PtrNPF5.11</text></g>
<g id="leaf-PtrNPF5.18"><text transform="rotate(352.56)" x="893" dy=".35em">PtrNPF5.18</text></g>
<g id="leaf-AtNPF5.3"><text transform="rotate(355.36)" x="893" dy=".35em">AtNPF5.3</text></g>
<g id="leaf-AtNPF5.2"><text transform="rotate(358.17)" x="893" dy=".35em">AtNPF5.2</text></g>
<g id="leaf-PtrNPF5.17"><text transform="rotate(360.97)" x="893" dy=".35em">PtrNPF5.17</text></g>
<g id="leaf-PtrNPF5.3"><text transform="rotate(363.78)" x="893" dy=".35em">PtrNPF5.3</text></g>
<g id="leaf-PtrNPF5.2"><text transform="rotate(366.58)" x="893" dy=".35em">PtrNPF5.2</text></g>
<g id="leaf-PtrNPF5.6"><text transform="rotate(369.39)" x="893" dy=".35em">PtrNPF5.6</text></g>
<g id="leaf-AtNPF5.6"><text transform="rotate(372.19)" x="893" dy=".35em">AtNPF5.6</text></g>
<g id="leaf-AtNPF5.7"><text transform="rotate(375)" x="893" dy=".35em">AtNPF5.7</text></g>
<g id="leaf-AtNPF5.5"><text transform="rotate(377.8)" x="893" dy=".35em">AtNPF5.5</text></g>
<g id="leaf-PtrNPF5.7"><text transform="rotate(380.61)" x="893" dy=".35em">PtrNPF5.7</text></g>
<g id="leaf-PtrNPF5.5"><text transform="rotate(383.41)" x="893" dy=".35em">PtrNPF5.5</text></g>
<g id="leaf-PtrNPF5.15"><text transform="rotate(386.22)" x="893" dy=".35em">PtrNPF5.15</text></g>
<g id="leaf-PtrNPF5.14"><text transform="rotate(389.02)" x="893" dy=".35em">PtrNPF5.14</text></g>
<g id="leaf-PtrNPF5.16"><text transform="rotate(391.83)" x="893" dy=".35em">PtrNPF5.16</text></g>
<g id="leaf-PtrNPF5.13"><text transform="rotate(394.63)" x="893" dy=".35em">PtrNPF5.13</text></g>
<g id="leaf-AtNPF5.9"><text transform="rotate(397.44)" x="893" dy=".35em">AtNPF5.9</text></g>
<g id="leaf-AtNPF5.8"><text transform="rotate(400.24)" x="893" dy=".35em">AtNPF5.8</text></g>
<g id="leaf-PtrNPF5.9"><text transform="rotate(403.05)" x="893" dy=".35em">PtrNPF5.9</text></g>
<g id="leaf-PtrNPF5.19"><text transform="rotate(405.85)" x="893" dy=".35em">PtrNPF5.19</text></g>
<g id="leaf-PtrNPF5.8"><text transform="rotate(408.66)" x="893" dy=".35em">PtrNPF5.8</text></g>
<g id="leaf-AtNPF5.4"><text transform="rotate(411.46)" x="893" dy=".35em">AtNPF5.4</text></g>
<g id="leaf-PtrNPF5.4"><text transform="rotate(414.27)" x="893" dy=".35em">PtrNPF5.4</text></g>
<g id="leaf-AtNPF5.16"><text transform="rotate(417.07)" x="893" dy=".35em">AtNPF5.16</text></g>
<g id="leaf-AtNPF5.15"><text transform="rotate(419.88)" x="893" dy=".35em">AtNPF5.15</text></g>
<g id="leaf-AtNPF5.13"><text transform="rotate(422.68)" x="893" dy=".35em">AtNPF5.13</text></g>
<g id="leaf-AtNPF5.14"><text transform="rotate(425.49)" x="893" dy=".35em">AtNPF5.14</text></g>
<g id="leaf-PtrNPF5.10"><text transform="rotate(428.29)" x="893" dy=".35em">PtrNPF5.10</text></g>
<g id="leaf-PtrNPF5.12"><text transform="rotate(431.1)" x="893" dy=".35em">PtrNPF5.12</text></g>
<g id="leaf-AtNPF5.10"><text transform="rotate(433.9)" x="893" dy=".35em">AtNPF5.10</text></g>
<g id="leaf-AtNPF5.11"><text transform="rotate(436.71)" x="893" dy=".35em">AtNPF5.11</text></g>
<g id="leaf-AtNPF5.12"><text transform="rotate(439.51)" x="893" dy=".35em">AtNPF5.12</text></g>
<g id="leaf-PtrNPF7.2"><text transform="rotate(442.32)" x="893" dy=".35em">PtrNPF7.2</text></g>
<g id="leaf-AtNPF7.1"><text transform="rotate(445.12)" x="893" dy=".35em">AtNPF7.1</text></g>
<g id="leaf-PtrNPF7.1"><text transform="rotate(447.93)" x="893" dy=".35em">PtrNPF7.1</text></g>
<g id="leaf-AtNPF7.2"><text class="f" transform="rotate(270.73)" x="-893" dy=".35em">AtNPF7.2</text></g>
<g id="leaf-PtrNPF7.4"><text class="f" transform="rotate(273.54)" x="-893" dy=".35em">PtrNPF7.4</text></g>
<g id="leaf-AtNPF7.3"><text class="f" transform="rotate(276.34)" x="-893" dy=".35em">AtNPF7.3</text></g>
<g id="leaf-PtrNPF7.3"><text class="f" transform="rotate(279.15)" x="-893" dy=".35em">PtrNPF7.3</text></g>
<g id="leaf-PtrNPF8.3"><text class="f" transform="rotate(281.95)" x="-893" dy=".35em">PtrNPF8.3</text></g>
<g id="leaf-AtNPF8.3"><text class="f" transform="rotate(284.76)" x="-893" dy=".35em">AtNPF8.3</text></g>
<g id="leaf-AtNPF8.4"><text class="f" transform="rotate(287.56)" x="-893" dy=".35em">AtNPF8.4</text></g>
<g id="leaf-AtNPF8.5"><text class="f" transform="rotate(290.37)" x="-893" dy=".35em">AtNPF8.5</text></g>
<g id="leaf-PtrNPF8.4"><text class="f" transform="rotate(293.17)" x="-893" dy=".35em">PtrNPF8.4</text></g>
<g id="leaf-PtrNPF8.2"><text class="f" transform="rotate(295.98)" x="-893" dy=".35em">PtrNPF8.2</text></g>
<g id="leaf-PtrNPF8.1"><text class="f" transform="rotate(298.78)" x="-893" dy=".35em">PtrNPF8.1</text></g>
<g id="leaf-AtNPF8.2"><text class="f" transform="rotate(301.59)" x="-893" dy=".35em">AtNPF8.2</text></g>
<g id="leaf-AtNPF8.1"><text class="f" transform="rotate(304.39)" x="-893" dy=".35em">AtNPF8.1</text></g>
<g id="leaf-AtNPF6.4"><text class="f" transform="rotate(307.2)" x="-893" dy=".35em">AtNPF6.4</text></g>
<g id="leaf-PtrNPF6.4"><text class="f" transform="rotate(310)" x="-893" dy=".35em">PtrNPF6.4</text></g>
<g id="leaf-PtrNPF6.5"><text class="f" transform="rotate(312.81)" x="-893" dy=".35em">PtrNPF6.5</text></g>
<g id="leaf-AtNPF6.1"><text class="f" transform="rotate(315.61)" x="-893" dy=".35em">AtNPF6.1</text></g>
<g id="leaf-PtrNPF6.1"><text class="f" transform="rotate(318.42)" x="-893" dy=".35em">PtrNPF6.1</text></g>
<g id="leaf-AtNPF6.3"><text class="f" transform="rotate(321.22)" x="-893" dy=".35em">AtNPF6.3</text></g>
<g id="leaf-PtrNPF6.3"><text class="f" transform="rotate(324.03)" x="-893" dy=".35em">PtrNPF6.3</text></g>
<g id="leaf-AtNPF6.2"><text class="f" transform="rotate(326.83)" x="-893" dy=".35em">AtNPF6.2</text></g>
<g id="leaf-PtrNPF6.6"><text class="f" transform="rotate(329.64)" x="-893" dy=".35em">PtrNPF6.6</text></g>
<g id="leaf-PtrNPF6.2"><text class="f" transform="rotate(332.44)" x="-893" dy=".35em">PtrNPF6.2</text></g>
<g id="leaf-AtNPF4.4"><text class="f" transform="rotate(335.25)" x="-893" dy=".35em">AtNPF4.4</text></g>
<g id="leaf-PtrNPF4.4"><text class="f" transform="rotate(338.05)" x="-893" dy=".35em">PtrNPF4.4</text></g>
<g id="leaf-AtNPF4.3"><text class="f" transform="rotate(340.86)" x="-893" dy=".35em">AtNPF4.3</text></g>
<g id="leaf-PtrNPF4.3"><text class="f" transform="rotate(343.66)" x="-893" dy=".35em">PtrNPF4.3</text></g>
<g id="leaf-PtrNPF4.1"><text class="f" transform="rotate(346.47)" x="-893" dy=".35em">PtrNPF4.1</text></g>
<g id="leaf-PtrNPF4.5"><text class="f" transform="rotate(349.27)" x="-893" dy=".35em">PtrNPF4.5</text></g>
<g id="leaf-PtrNPF4.9"><text class="f" transform="rotate(352.08)" x="-893" dy=".35em">PtrNPF4.9</text></g>
<g id="leaf-PtrNPF4.8"><text class="f" transform="rotate(354.88)" x="-893" dy=".35em">PtrNPF4.8</text></g>
<g id="leaf-PtrNPF4.2"><text class="f" transform="rotate(357.69)" x="-893" dy=".35em">PtrNPF4.2</text></g>
<g id="leaf-AtNPF4.2"><text class="f" transform="rotate(360.49)" x="-893" dy=".35em">AtNPF4.2</text></g>
<g id="leaf-AtNPF4.1"><text class="f" transform="rotate(363.3)" x="-893" dy=".35em">AtNPF4.1</text></g>
<g id="leaf-AtNPF4.5"><text class="f" transform="rotate(366.1)" x="-893" dy=".35em">AtNPF4.5</text></g>
<g id="leaf-AtNPF4.6"><text class="f" transform="rotate(368.91)" x="-893" dy=".35em">AtNPF4.6</text></g>
<g id="leaf-PtrNPF4.6"><text class="f" transform="rotate(371.71)" x="-893" dy=".35em">PtrNPF4.6</text></g>
<g id="leaf-AtNPF4.7"><text class="f" transform="rotate(374.52)" x="-893" dy=".35em">AtNPF4.7</text></g>
<g id="leaf-PtrNPF4.7"><text class="f" transform="rotate(377.32)" x="-893" dy=".35em">PtrNPF4.7</text></g>
</g>
</g>
<g id="clade-labels" class="big">
<text transform="translate(714,936) rotate(30)" text-anchor="middle" dy=".35em">NAR2</text>
<text transform="translate(890,795) rotate(43)" text-anchor="middle" dy=".35em">NRT2</text>
<text x="1257" y="987">NPF</text>
</g>
</svg>
